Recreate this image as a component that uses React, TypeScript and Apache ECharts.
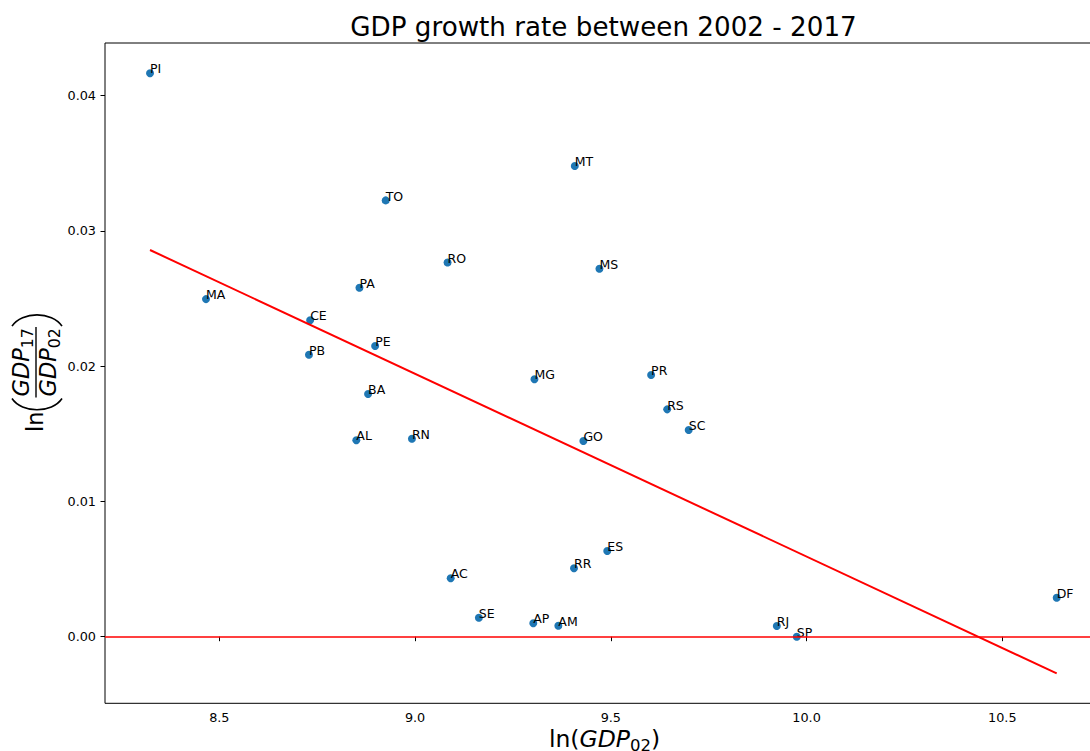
import React, { useEffect, useRef } from "react";
import * as echarts from "echarts";

const states = ["PI", "MA", "CE", "PB", "PA", "TO", "PE", "BA", "AL", "RN", "RO", "MT", "MS", "MG", "PR", "RS", "SC", "GO", "ES", "RR", "AC", "SE", "AP", "AM", "RJ", "SP", "DF"];
const lnGdp02 = [8.323, 8.466, 8.732, 8.729, 8.858, 8.925, 8.898, 8.880, 8.850, 8.992, 9.083, 9.408, 9.471, 9.305, 9.603, 9.644, 9.699, 9.430, 9.491, 9.406, 9.091, 9.163, 9.302, 9.366, 9.924, 9.975, 10.639];
const growth = [0.04166, 0.02496, 0.0234, 0.02085, 0.0258, 0.03226, 0.02149, 0.01795, 0.01452, 0.01464, 0.02767, 0.0348, 0.02721, 0.01904, 0.01935, 0.01681, 0.01528, 0.01447, 0.00634, 0.00506, 0.00432, 0.0014, 0.00099, 0.00081, 0.00079, 0.0, 0.00288];
const fitX = [8.323, 10.639];
const fitY = [0.02859, -0.00271];
const xTicks = [8.5, 9.0, 9.5, 10.0, 10.5];
const yTicks = [0, 0.01, 0.02, 0.03, 0.04];

const FONT = "DejaVu Sans";
const CHART_W = 1110;
const CHART_H = 751;

export default function App() {
  const ref = useRef<HTMLDivElement>(null);
  useEffect(() => {
    const el = ref.current!;
    const chart = echarts.init(el, null, { renderer: "svg" });
    const ctx = document.createElement("canvas").getContext("2d")!;
    const measure = (t: string, size: number, italic = false) => {
      ctx.font = `${italic ? "italic " : ""}${size}px "${FONT}"`;
      return ctx.measureText(t).width;
    };
    const MID = 0.346; // baseline offset from central, in em

    // ---------- y-axis label (rotated) ----------
    const L = 22.5;
    const S = 15.75;
    const graphics: any[] = [];
    const rotText = (text: string, size: number, italic: boolean, baseX: number, startY: number) => ({
      type: "text",
      x: baseX - MID * size,
      y: startY,
      rotation: Math.PI / 2,
      style: { text, fontSize: size, fontFamily: FONT, fontStyle: italic ? "italic" : "normal", fill: "#000", align: "left", verticalAlign: "middle" },
      silent: true,
    });
    let yCur = 432;
    const lnW = measure("ln", L);
    graphics.push(rotText("ln", L, false, 43, yCur));
    yCur -= lnW + 1;
    // opening paren
    graphics.push({ type: "bezierCurve", silent: true, shape: { x1: 12, y1: yCur - 12, cpx1: 22, cpy1: yCur + 3, cpx2: 52, cpy2: yCur + 3, x2: 62, y2: yCur - 12 }, style: { stroke: "#000", lineWidth: 1.6, fill: null } });
    yCur -= 13;
    const gW = measure("GDP", L, true);
    const n17 = measure("17", S);
    const n02 = measure("02", S);
    const fracW = Math.max(gW + n17, gW + n02) + 2;
    const barX = 36;
    graphics.push({ type: "line", silent: true, shape: { x1: barX, y1: yCur, x2: barX, y2: yCur - fracW }, style: { stroke: "#000", lineWidth: 1.4 } });
    const numStart = yCur - (fracW - (gW + n17)) / 2;
    graphics.push(rotText("GDP", L, true, barX - 7, numStart));
    graphics.push(rotText("17", S, false, barX - 3, numStart - gW));
    const denStart = yCur - (fracW - (gW + n02)) / 2;
    graphics.push(rotText("GDP", L, true, barX + 19.5, denStart));
    graphics.push(rotText("02", S, false, barX + 23.5, denStart - gW));
    yCur -= fracW + 1;
    graphics.push({ type: "bezierCurve", silent: true, shape: { x1: 12, y1: yCur, cpx1: 22, cpy1: yCur - 15, cpx2: 52, cpy2: yCur - 15, x2: 62, y2: yCur }, style: { stroke: "#000", lineWidth: 1.6, fill: null } });

    // ---------- x-axis label ----------
    const XL = 23.5;
    const XS = 16.5;
    const parts = [
      { t: "ln(", size: XL, it: false, dy: 0 },
      { t: "GDP", size: XL, it: true, dy: 0 },
      { t: "02", size: XS, it: false, dy: 4.5 },
      { t: ")", size: XL, it: false, dy: 0 },
    ];
    const totalW = parts.reduce((a, p) => a + measure(p.t, p.size, p.it), 0);
    let xCur = 604.5 - totalW / 2;
    const xBase = 746.7;
    for (const p of parts) {
      graphics.push({
        type: "text", silent: true, x: xCur, y: xBase + p.dy - MID * p.size,
        style: { text: p.t, fontSize: p.size, fontFamily: FONT, fontStyle: p.it ? "italic" : "normal", fill: "#000", align: "left", verticalAlign: "middle" },
      });
      xCur += measure(p.t, p.size, p.it);
    }

    // ---------- title ----------
    const TS = 26.2;
    graphics.push({
      type: "text", silent: true, x: 603.5, y: 36.5 - MID * TS,
      style: { text: "GDP growth rate between 2002 - 2017", fontSize: TS, fontFamily: FONT, fill: "#000", align: "center", verticalAlign: "middle" },
    });

    const tickFont = { fontSize: 12.8, fontFamily: FONT, color: "#000" };

    chart.setOption({
      animation: false,
      grid: { left: 105, top: 43, right: CHART_W - 1100, bottom: 47.7, show: true, borderColor: "#000", borderWidth: 1, backgroundColor: "#fff" },
      xAxis: {
        type: "value",
        min: 8.208,
        max: 10.7496,
        axisLine: { show: false },
        splitLine: { show: false },
        axisTick: { show: true, customValues: xTicks, length: 4.5, lineStyle: { color: "#000", width: 1 } },
        axisLabel: { ...tickFont, customValues: xTicks, margin: 8, formatter: (v: number) => v.toFixed(1) },
      },
      yAxis: {
        type: "value",
        min: -0.004924,
        max: 0.043896,
        axisLine: { show: false },
        splitLine: { show: false },
        axisTick: { show: true, customValues: yTicks, length: 4.5, lineStyle: { color: "#000", width: 1 } },
        axisLabel: { ...tickFont, customValues: yTicks, margin: 9, formatter: (v: number) => v.toFixed(2) },
      },
      series: [
        {
          type: "scatter",
          symbolSize: 8,
          itemStyle: { color: "#1f77b4", opacity: 1 },
          data: states.map((s, i) => ({ name: s, value: [lnGdp02[i], growth[i]] })),
          label: {
            show: true,
            formatter: (p: any) => p.name,
            position: [4, 4 - MID * 12.5],
            align: "left",
            verticalAlign: "middle",
            fontSize: 12.5,
            fontFamily: FONT,
            color: "#000",
          },
          z: 2,
        },
        {
          type: "line",
          data: fitX.map((x, i) => [x, fitY[i]]),
          showSymbol: false,
          lineStyle: { color: "#ff0000", width: 2 },
          z: 3,
          silent: true,
          markLine: {
            silent: true,
            symbol: "none",
            label: { show: false },
            lineStyle: { color: "#ff0000", width: 1.5, type: "solid" },
            data: [{ yAxis: 0 }],
          },
        },
      ],
      graphic: graphics,
    });
    return () => chart.dispose();
  }, []);
  return (
    <div style={{ position: "absolute", left: 0, top: 0, width: 1090, height: 751, overflow: "hidden", background: "#fff" }}>
      <div ref={ref} style={{ position: "absolute", left: 0, top: 0, width: CHART_W, height: CHART_H }} />
    </div>
  );
}
